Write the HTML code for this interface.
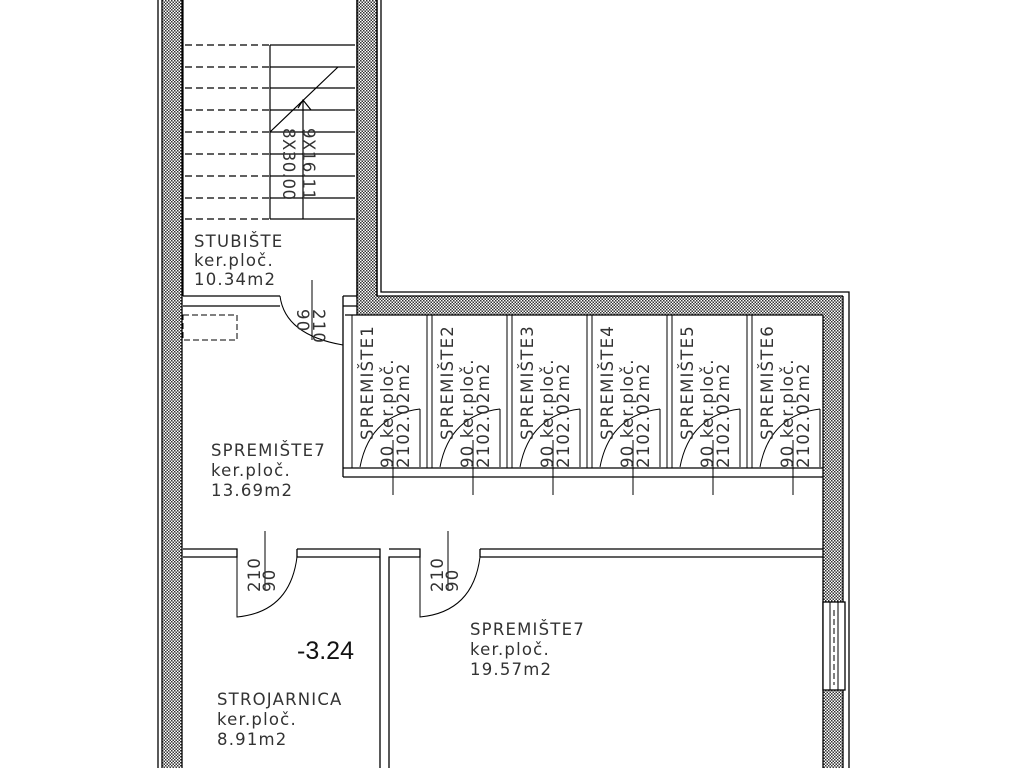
<!DOCTYPE html>
<html><head><meta charset="utf-8"><style>
html,body{margin:0;padding:0;background:#fff}
svg{display:block}
text{font-family:"DejaVu Sans","Liberation Sans",sans-serif;fill:#333;letter-spacing:1.2px}
</style></head><body>
<svg width="1024" height="768" viewBox="0 0 1024 768" xmlns="http://www.w3.org/2000/svg">
<defs>
<pattern id="h" width="3" height="3" patternUnits="userSpaceOnUse">
<rect width="3" height="3" fill="#fff"/><rect width="1.5" height="1.5" fill="#333"/><rect x="1.5" y="1.5" width="1.5" height="1.5" fill="#333"/>
</pattern>
</defs>
<g stroke="#000" stroke-width="1.3" fill="none">
<line x1="158" y1="0" x2="158" y2="768"/>
<rect x="162" y="-2" width="20" height="772" fill="url(#h)"/>
<rect x="357" y="-2" width="20" height="300" fill="url(#h)"/>
<path d="M357 296 H843 V770 H823 V315 H357 Z" fill="url(#h)" stroke="none"/>
<path d="M357 0 V315 M377 0 V296 H843 M381 0 V292 H849 V768 M843 296 V768 M823 315 V768 M345 315 H823"/>
<rect x="823" y="602" width="22" height="88" fill="#fff"/>
<path d="M823 602 V690 M845 602 V690 M830 602 V690 M838 602 V690" stroke-width="1"/>
<path d="M834 610 V685" stroke-dasharray="6 3" stroke-width="1"/>
<g stroke-width="1.2">
<path d="M185 45 H270 M185 67 H270 M185 88 H270 M185 110 H270 M185 132 H270 M185 154 H270 M185 176 H270 M185 198 H270 M185 219 H270" stroke-dasharray="7 4"/>
<path d="M270 45 H355 M270 67 H355 M270 88 H355 M270 110 H355 M270 132 H355 M270 154 H355 M270 176 H355 M270 198 H355 M270 219 H355"/>
<path d="M270 45 V219 M303 100 V219 M270 132 L338 67 M298 108 L303 100 L311 110"/>
<path d="M183 0 V296"/>
</g>
<path d="M183 296 H280 M343 296 H357 M183 306 H280 M343 306 H357 M343 296 V477"/>
<path d="M280 296 Q285 335 343 345" stroke-width="1"/>
<line x1="312" y1="280" x2="312" y2="340" stroke-width="1"/>
<rect x="183" y="315" width="54" height="25" stroke-dasharray="6 3" stroke-width="1"/>
<path d="M343 468 H823 M343 477 H823"/>
<g id="cub">
<path d="M352 315 V468 M420 409 V467 M420 409 Q370 415 360 467" stroke-width="1"/>
<line x1="393" y1="440" x2="393" y2="495" stroke-width="1"/>
</g>
<use href="#cub" x="80"/><use href="#cub" x="160"/><use href="#cub" x="240"/><use href="#cub" x="320"/><use href="#cub" x="400"/>
<path d="M427 315 V468 M507 315 V468 M587 315 V468 M667 315 V468 M747 315 V468" stroke-width="1"/>
<path d="M183 549 H237 V557 H183 M297 549 H380 V768 M297 549 V557 H380 M389 768 V557 H420 V549 H389 M480 549 H823 M480 557 H823 M480 549 V557"/>
<path d="M237 557 V617 Q290 612 297 557 M420 557 V617 Q473 612 480 557" stroke-width="1"/>
<line x1="265" y1="531" x2="265" y2="590" stroke-width="1"/>
<line x1="448" y1="531" x2="448" y2="590" stroke-width="1"/>
</g>
<g font-size="16.5">
<text transform="translate(283,128) rotate(90)" style="letter-spacing:0.5px">8X30.00</text>
<text transform="translate(303,128) rotate(90)" style="letter-spacing:0.5px">9X16.11</text>
<text x="194" y="247">STUBIŠTE</text>
<text x="194" y="266">ker.ploč.</text>
<text x="194" y="285">10.34m2</text>
<text transform="translate(297,309) rotate(90)">90</text>
<text transform="translate(313,309) rotate(90)">210</text>
<text x="211" y="456">SPREMIŠTE7</text>
<text x="211" y="476">ker.ploč.</text>
<text x="211" y="496">13.69m2</text>
<text transform="translate(260,592) rotate(-90)">210</text>
<text transform="translate(275,592) rotate(-90)">90</text>
<text transform="translate(443,592) rotate(-90)">210</text>
<text transform="translate(458,592) rotate(-90)">90</text>
<text x="297" y="659" font-size="25" style="fill:#111;letter-spacing:0;font-family:'Liberation Sans',sans-serif">-3.24</text>
<text x="470" y="635">SPREMIŠTE7</text>
<text x="470" y="655">ker.ploč.</text>
<text x="470" y="675">19.57m2</text>
<text x="217" y="705">STROJARNICA</text>
<text x="217" y="725">ker.ploč.</text>
<text x="217" y="745">8.91m2</text>
</g>
<g font-size="16.5">
<text transform="translate(373,440) rotate(-90)">SPREMIŠTE1</text>
<text transform="translate(393,468) rotate(-90)">90 ker.ploč.</text>
<text transform="translate(409,468) rotate(-90)">2102.02m2</text>
<text transform="translate(453,440) rotate(-90)">SPREMIŠTE2</text>
<text transform="translate(473,468) rotate(-90)">90 ker.ploč.</text>
<text transform="translate(489,468) rotate(-90)">2102.02m2</text>
<text transform="translate(533,440) rotate(-90)">SPREMIŠTE3</text>
<text transform="translate(553,468) rotate(-90)">90 ker.ploč.</text>
<text transform="translate(569,468) rotate(-90)">2102.02m2</text>
<text transform="translate(613,440) rotate(-90)">SPREMIŠTE4</text>
<text transform="translate(633,468) rotate(-90)">90 ker.ploč.</text>
<text transform="translate(649,468) rotate(-90)">2102.02m2</text>
<text transform="translate(693,440) rotate(-90)">SPREMIŠTE5</text>
<text transform="translate(713,468) rotate(-90)">90 ker.ploč.</text>
<text transform="translate(729,468) rotate(-90)">2102.02m2</text>
<text transform="translate(773,440) rotate(-90)">SPREMIŠTE6</text>
<text transform="translate(793,468) rotate(-90)">90 ker.ploč.</text>
<text transform="translate(809,468) rotate(-90)">2102.02m2</text>
</g>
</svg>
</body></html>
